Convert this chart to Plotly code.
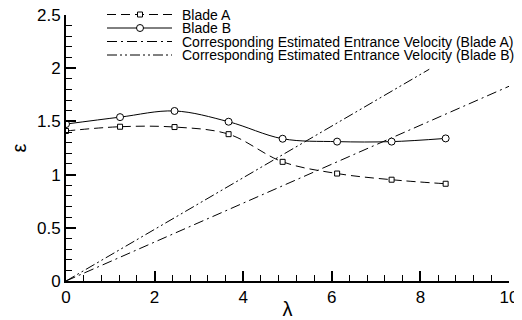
import plotly.graph_objects as go

# ---- data ----
lam = [0.0, 1.22, 2.45, 3.67, 4.89, 6.12, 7.35, 8.57]
eps_blade_a = [1.41, 1.45, 1.447, 1.38, 1.12, 1.01, 0.952, 0.914]
eps_blade_b = [1.475, 1.54, 1.598, 1.497, 1.337, 1.31, 1.31, 1.34]
vel_a_x = [0.0, 10.0]
vel_a_y = [0.0, 1.83]
vel_b_x = [0.0, 8.2]
vel_b_y = [0.0, 1.99]
legend_labels = [
    "Blade A",
    "Blade B",
    "Corresponding Estimated Entrance Velocity (Blade A)",
    "Corresponding Estimated Entrance Velocity (Blade B)",
]

FONT = "Arial, Liberation Sans, Helvetica, sans-serif"
OFF = 8  # page body margin offset
W, H = 522 - OFF, 320 - OFF
L, R, T, B = 66 - OFF, 13, 15 - OFF, 39
PW, PH = W - L - R, H - T - B

DASH_A = "9px,5px"
DASHDOT = "10px,4px,2px,4px"
DASHDOTDOT = "10px,3px,2px,3px,2px,3px"

fig = go.Figure()
fig.add_trace(go.Scatter(x=vel_a_x, y=vel_a_y, mode="lines",
                         line=dict(color="black", width=1, dash=DASHDOT),
                         showlegend=False, hoverinfo="skip"))
fig.add_trace(go.Scatter(x=vel_b_x, y=vel_b_y, mode="lines",
                         line=dict(color="black", width=1, dash=DASHDOTDOT),
                         showlegend=False, hoverinfo="skip"))
fig.add_trace(go.Scatter(x=lam, y=eps_blade_a, mode="lines+markers",
                         line=dict(color="black", width=1, dash=DASH_A, shape="spline"),
                         marker=dict(symbol="square", size=5, color="white",
                                     line=dict(color="black", width=1)),
                         showlegend=False))
fig.add_trace(go.Scatter(x=lam, y=eps_blade_b, mode="lines+markers",
                         line=dict(color="black", width=1, shape="spline"),
                         marker=dict(symbol="circle", size=7, color="white",
                                     line=dict(color="black", width=1)),
                         showlegend=False))

# ---- manual legend (paper coords from window pixel positions) ----
def px_x(p):
    return (p - OFF - L) / PW

def px_y(p):
    return (H - B - (p - OFF)) / PH

rows = [14.5, 28, 41.5, 55]
dashes = [DASH_A, "solid", DASHDOT, DASHDOTDOT]
x0, x1, xm, xt = 107, 172, 140, 181
shapes = []
annotations = []
for i, (py, lab) in enumerate(zip(rows, legend_labels)):
    shapes.append(dict(type="line", xref="paper", yref="paper",
                       x0=px_x(x0), x1=px_x(x1), y0=px_y(py), y1=px_y(py),
                       line=dict(color="black", width=1, dash=dashes[i])))
    annotations.append(dict(x=px_x(xt), y=px_y(py), xref="paper", yref="paper",
                            text=lab, showarrow=False, xanchor="left", yanchor="middle",
                            borderpad=0,
                            font=dict(family=FONT, size=14, color="black")))
# legend markers
shapes.append(dict(type="rect", xref="paper", yref="paper",
                   x0=px_x(xm - 2.5), x1=px_x(xm + 2.5), y0=px_y(rows[0] - 2.5), y1=px_y(rows[0] + 2.5),
                   line=dict(color="black", width=1), fillcolor="white"))
shapes.append(dict(type="circle", xref="paper", yref="paper",
                   x0=px_x(xm - 3.5), x1=px_x(xm + 3.5), y0=px_y(rows[1] - 3.5), y1=px_y(rows[1] + 3.5),
                   line=dict(color="black", width=1), fillcolor="white"))

fig.update_layout(
    width=W, height=H,
    margin=dict(l=L, r=R, t=T, b=B, pad=0, autoexpand=False),
    paper_bgcolor="white", plot_bgcolor="white",
    font=dict(family=FONT, size=17, color="black"),
    shapes=shapes, annotations=annotations,
    showlegend=False,
)
fig.update_xaxes(
    range=[0, 10], dtick=2, tick0=0, showgrid=False, zeroline=False,
    showline=True, linecolor="black", linewidth=2, automargin=False,
    ticklabeloverflow="allow",
    ticks="inside", ticklen=10, tickwidth=1.5, tickcolor="black",
    minor=dict(ticks="inside", ticklen=6, dtick=0.4, tickwidth=1, tickcolor="black"),
    tickfont=dict(size=17), title=dict(text="λ", font=dict(size=20), standoff=0),
)
fig.update_yaxes(
    range=[0, 2.5], dtick=0.5, tick0=0, showgrid=False, zeroline=False,
    showline=True, linecolor="black", linewidth=2, automargin=False,
    ticklabeloverflow="allow",
    ticks="inside", ticklen=10, tickwidth=1.5, tickcolor="black",
    minor=dict(ticks="inside", ticklen=6, dtick=0.1, tickwidth=1, tickcolor="black"),
    tickfont=dict(size=17), title=dict(text="ε", font=dict(size=20), standoff=12),
)

fig.write_html("out.html")
